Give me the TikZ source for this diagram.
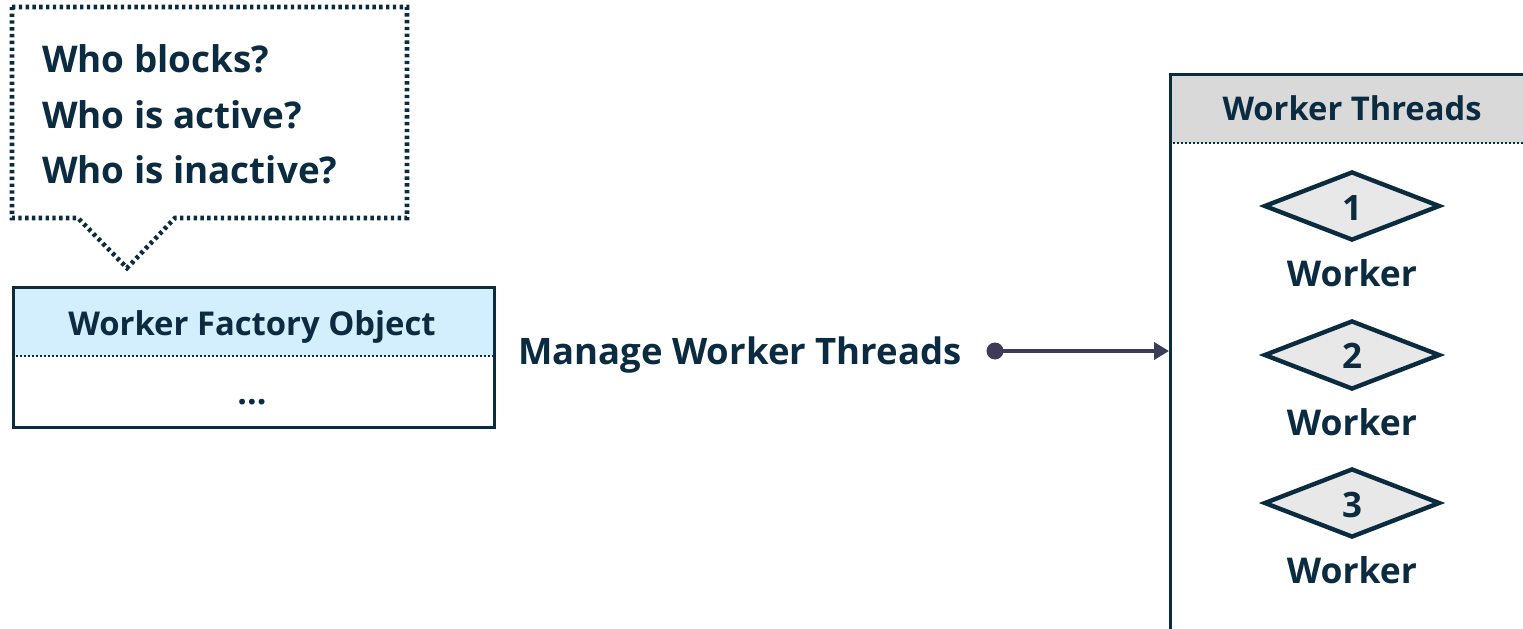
\documentclass[tikz,border=0pt]{standalone}
\usepackage{fontspec}
\setmainfont{Open Sans}
\usetikzlibrary{shapes.geometric,arrows.meta}
\definecolor{ink}{HTML}{0B2B40}
\definecolor{headblue}{HTML}{D3EEFD}
\definecolor{headgray}{HTML}{D9D9D9}
\definecolor{diafill}{HTML}{E8E8E8}
\definecolor{linkcol}{HTML}{3C3C5A}
\tikzset{
  txt/.style={text=ink, inner sep=0pt},
  boxline/.style={draw=ink, line width=3.4pt},
  sepline/.style={draw=ink, line width=2pt, dash pattern=on 2pt off 2pt},
  calloutline/.style={draw=ink, line width=4.6pt, dash pattern=on 3.4pt off 3.4pt},
  workerdia/.style={diamond, draw=ink, line width=4.4pt, fill=diafill, aspect=2.5,
    minimum width=176pt, minimum height=69pt, inner sep=0pt},
}
\begin{document}
\begin{tikzpicture}[x=1pt, y=-1pt]
\useasboundingbox (0,0) rectangle (1523,629);
\clip (0,0) rectangle (1523,629);

% speech bubble with the three questions
\draw[calloutline] (12,7) -- (407,7) -- (407,218) -- (175,218) -- (127,268)
  -- (78,218) -- (12,218) -- cycle;
\node[txt, anchor=base west, font=\bfseries\fontsize{36.8}{40}\selectfont] (q1) at (42,72) {Who blocks?};
\node[txt, anchor=base west, font=\bfseries\fontsize{36.8}{40}\selectfont] (q2) at (42,128) {Who is active?};
\node[txt, anchor=base west, font=\bfseries\fontsize{36.8}{40}\selectfont] (q3) at (42,183) {Who is inactive?};

% worker factory object
\fill[headblue] (12,286) rectangle (493,356);
\draw[sepline] (12,356) -- (493,356);
\node[boxline, fill=none, minimum width=481pt, minimum height=140pt, anchor=north west, inner sep=0pt] (factory) at (12,286) {};
\node[txt, anchor=base, font=\bfseries\fontsize{32.8}{36}\selectfont] (ftitle) at (252,335) {Worker Factory Object};
\node[txt, anchor=base, font=\bfseries\fontsize{34}{36}\selectfont] (fdots) at (252,404) {...};

% connector label and link
\node[txt, anchor=base west, font=\bfseries\fontsize{36.5}{38}\selectfont] (mlabel) at (518,364) {Manage Worker Threads};
\node[circle, fill=linkcol, minimum size=17pt, inner sep=0pt] (dot) at (995,351) {};

% worker threads container (runs off the page)
\fill[headgray] (1169,73) rectangle (1530,143);
\draw[sepline] (1169,143) -- (1530,143);
\node[boxline, minimum width=400pt, minimum height=600pt, anchor=north west, inner sep=0pt] (threads) at (1169,73) {};
\node[txt, anchor=base, font=\bfseries\fontsize{32.7}{36}\selectfont] (ttitle) at (1352,120) {Worker Threads};

\draw[linkcol, line width=4.6pt, -{Triangle[length=15pt, width=17pt]}] (dot.center) -- (dot.center -| threads.west);

% workers
\node[workerdia] (w1) at (1352,206) {};
\node[workerdia] (w2) at (1352,355) {};
\node[workerdia] (w3) at (1352,503) {};
\node[txt, anchor=base, font=\bfseries\fontsize{35}{37}\selectfont] (n1) at (1352,220) {1};
\node[txt, anchor=base, font=\bfseries\fontsize{35}{37}\selectfont] (n2) at (1352,368) {2};
\node[txt, anchor=base, font=\bfseries\fontsize{35}{37}\selectfont] (n3) at (1352,517) {3};
\node[txt, anchor=base, font=\bfseries\fontsize{35.5}{37}\selectfont] (l1) at (1352,286) {Worker};
\node[txt, anchor=base, font=\bfseries\fontsize{35.5}{37}\selectfont] (l2) at (1352,435) {Worker};
\node[txt, anchor=base, font=\bfseries\fontsize{35.5}{37}\selectfont] (l3) at (1352,583) {Worker};
\end{tikzpicture}
\end{document}
